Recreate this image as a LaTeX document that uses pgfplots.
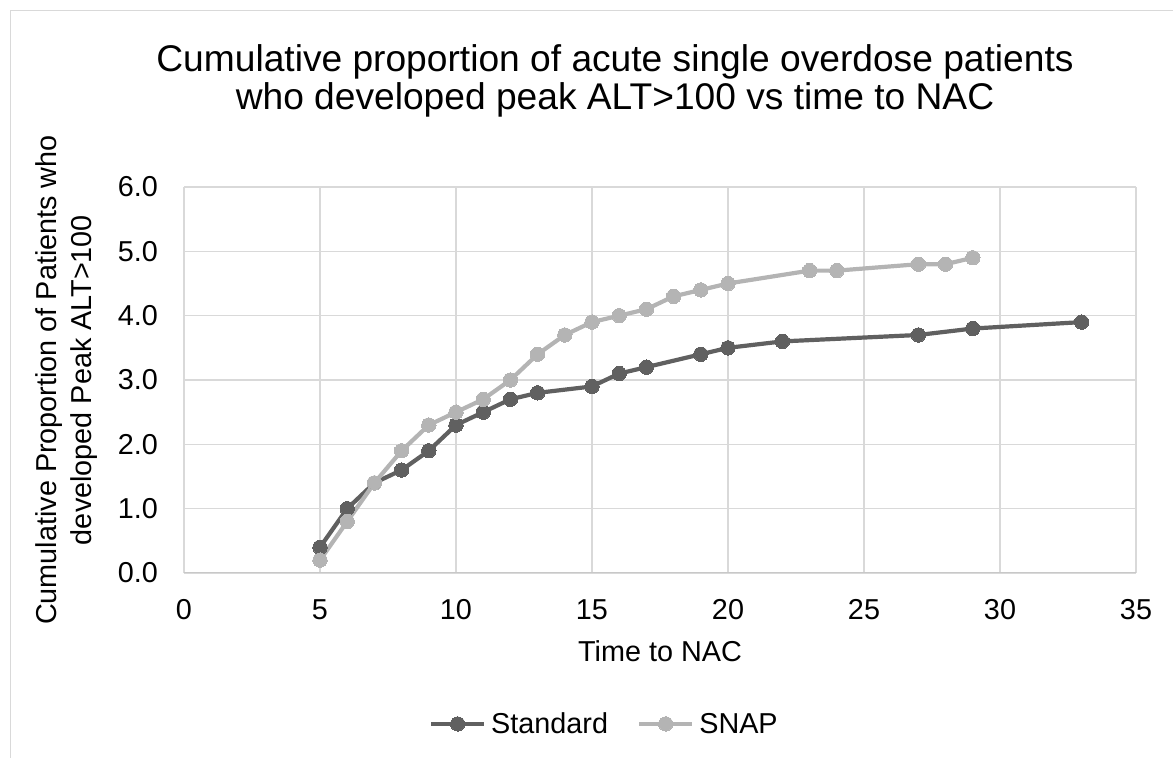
\documentclass[border=0pt]{standalone}
\usepackage{fontspec}
\setmainfont{Liberation Sans}
\usepackage{pgfplots}
\pgfplotsset{compat=1.18}

\definecolor{stdgray}{RGB}{96,96,96}
\definecolor{snapgray}{RGB}{180,180,180}
\definecolor{gridgray}{RGB}{217,217,217}
\definecolor{axgray}{RGB}{200,200,200}
\newcommand{\lbl}{\fontsize{28.9pt}{36pt}\selectfont}
\newcommand{\ttl}{\fontsize{37.3pt}{42pt}\selectfont}

\begin{document}
\begin{tikzpicture}
  \useasboundingbox (0bp,0bp) rectangle (1173bp,758bp);
  % chart area border (only left and top are in the crop)
  \draw[gridgray, line width=1.5bp] (10.5bp,0bp) -- (10.5bp,747.5bp) -- (1173bp,747.5bp);
  % title
  \node[font=\ttl, anchor=base, inner sep=0] at (615bp,686bp) {Cumulative proportion of acute single overdose patients};
  \node[font=\ttl, anchor=base, inner sep=0] at (615bp,648bp) {who developed peak ALT>100 vs time to NAC};
  \begin{axis}[
      at={(184bp,185bp)}, anchor=south west,
      scale only axis, width=952bp, height=386bp,
      xmin=0, xmax=35, ymin=0, ymax=6,
      xtick={0,5,...,35}, ytick={0,1,...,6},
      grid=major,
      major grid style={draw=gridgray, line width=1.5bp},
      axis line style={draw=none},
      major tick length=0,
      /pgf/number format/assume math mode=true,
      tick label style={font=\lbl},
      xticklabel style={anchor=base, inner sep=0, yshift=-46bp},
      yticklabel style={anchor=east, inner sep=0, xshift=-26bp},
      yticklabel={\pgfmathprintnumber[fixed,fixed zerofill,precision=1]{\tick}},
      xlabel={Time to NAC},
      xlabel style={at={(axis description cs:0.5,-0.228)}, anchor=base, inner sep=0, font=\lbl},
      ylabel={Cumulative Proportion of Patients who\\developed Peak ALT>100},
      ylabel style={at={(axis description cs:-0.1234,0.5)}, anchor=center, align=center, inner sep=0, font=\lbl},
      legend columns=2,
      legend cell align=left,
      legend style={at={(axis description cs:0.2574,-0.391)}, anchor=west, draw=none, fill=none,
        inner sep=0, outer sep=0, font=\lbl, nodes={inner sep=0},
        /tikz/every odd column/.append style={column sep=5bp},
        /tikz/every even column/.append style={column sep=29bp}},
      legend image code/.code={\draw[#1, mark repeat=2, mark phase=2] plot coordinates {(0bp,0bp) (26.5bp,0bp) (53bp,0bp)};},
    ]
    \draw[axgray, line width=1.5bp] (axis cs:0,0) -- (axis cs:35,0);
    % Standard
    \addplot[color=stdgray, line width=4.2bp, mark=*, mark size=7.2bp,
      mark options={fill=stdgray, draw=stdgray, line width=0bp}] coordinates {
        (5,0.4) (6,1.0) (7,1.4) (8,1.6) (9,1.9) (10,2.3) (11,2.5) (12,2.7)
        (13,2.8) (15,2.9) (16,3.1) (17,3.2) (19,3.4) (20,3.5) (22,3.6)
        (27,3.7) (29,3.8) (33,3.9)
      };
    % SNAP
    \addplot[color=snapgray, line width=4.2bp, mark=*, mark size=7.2bp,
      mark options={fill=snapgray, draw=snapgray, line width=0bp}] coordinates {
        (5,0.2) (6,0.8) (7,1.4) (8,1.9) (9,2.3) (10,2.5) (11,2.7) (12,3.0)
        (13,3.4) (14,3.7) (15,3.9) (16,4.0) (17,4.1) (18,4.3) (19,4.4)
        (20,4.5) (23,4.7) (24,4.7) (27,4.8) (28,4.8) (29,4.9)
      };
    \legend{Standard,SNAP}
  \end{axis}
\end{tikzpicture}
\end{document}
